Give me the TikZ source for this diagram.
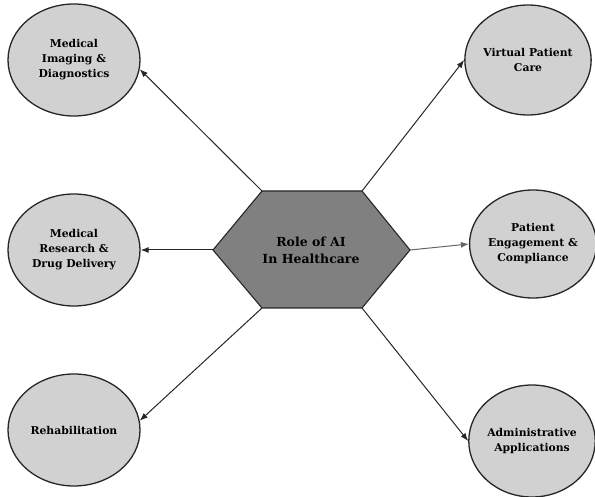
\documentclass[tikz,border=0pt]{standalone}
\usepackage{fontspec}
\setmainfont{DejaVu Serif}
\usetikzlibrary{shapes.geometric,arrows.meta}
\begin{document}
\begin{tikzpicture}[x=1pt,y=-1pt,
  topic/.style={ellipse,draw=black!85,line width=1.3pt,fill=black!18,minimum width=132pt,minimum height=112pt,inner sep=0pt,align=center,font=\fontsize{10.8}{15}\selectfont\bfseries},
  hexfill/.style={draw=black!85,line width=1.1pt,fill=black!50},
  link/.style={draw=black!85,line width=1pt,-{Latex[length=8pt,width=6pt]}}]
\useasboundingbox (0,0) rectangle (595,497);
% hexagon
\coordinate (hl) at (213,250);
\coordinate (htl) at (262,191);
\coordinate (htr) at (362,191);
\coordinate (hr) at (410,250);
\coordinate (hbr) at (362,308);
\coordinate (hbl) at (262,308);
\draw[hexfill] (hl) -- (htl) -- (htr) -- (hr) -- (hbr) -- (hbl) -- cycle;
\node[align=center,font=\fontsize{12.5}{17}\selectfont\bfseries] (core) at (311,250) {Role of AI\\In Healthcare};
% topics
\node[topic] (img) at (74,60) {Medical\\Imaging \&\\Diagnostics};
\node[topic] (res) at (74,250) {Medical\\Research \&\\Drug Delivery};
\node[topic] (reh) at (74,430) {Rehabilitation};
\node[topic,minimum width=120pt,minimum height=110pt] (vir) at (528,60) {Virtual Patient\\Care};
\node[topic,minimum width=120pt,minimum height=108pt] (eng) at (533,244) {Patient\\Engagement \&\\Compliance};
\node[topic,minimum width=120pt,minimum height=112pt] (adm) at (532,441) {Administrative\\Applications};
% links
\draw[link] (htl) -- (img.-8);
\draw[link] (hl) -- (res.east);
\draw[link] (hbl) -- (reh.8);
\draw[link] (htr) -- (vir.west);
\draw[link,draw=black!60] (hr) -- (eng.west);
\draw[link] (hbr) -- (adm.west);
\end{tikzpicture}
\end{document}
